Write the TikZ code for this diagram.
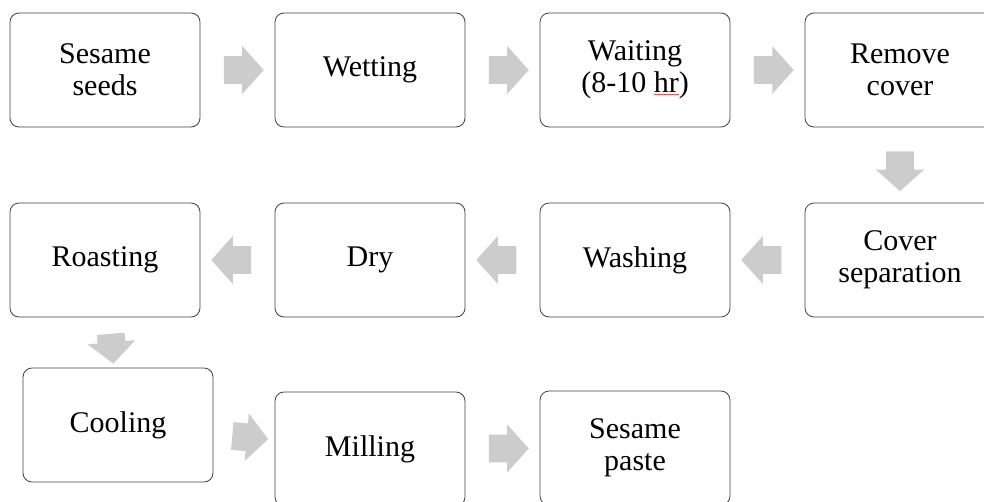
\documentclass[tikz,border=0pt]{standalone}
\usepackage{fontspec}
\setmainfont{Liberation Serif}
\usetikzlibrary{calc}
\usetikzlibrary{positioning,shapes.arrows}

\begin{document}
\begin{tikzpicture}
[x=1pt,y=-1pt,every node/.style={draw=black!75,line width=0.8pt,rounded corners=9pt,minimum width=190pt,minimum height=114pt,align=center,font=\fontsize{30}{32}\selectfont},
blockarrow/.style={single arrow,draw=none,fill=black!20,rounded corners=0pt,minimum width=0pt,minimum height=40pt,inner sep=0pt,inner ysep=13.5pt,single arrow head extend=10pt,single arrow tip angle=96}]

\useasboundingbox (0,0) rectangle (984,501);
\clip (0,0) rectangle (984,501);

\node (seeds) at (105,70) {Sesame\\seeds};
\node (wetting) at (370,70) {Wetting};
\node (waiting) at (635,70) {Waiting\\(8-10 \textcolor{red!70}{\underline{\textcolor{black}{hr}}})};
\node (remove) at (900,70) {Remove\\cover};

\node (separation) at (900,260) {Cover\\separation};
\node (washing) at (635,260) {Washing};
\node (dry) at (370,260) {Dry};
\node (roasting) at (105,260) {Roasting};

\node (cooling) at (118,425) {Cooling};
\node (milling) at (370,449) {Milling};
\node (paste) at (635,448) {Sesame\\paste};


\node[blockarrow] (a1) at ($(seeds)!0.5!(wetting)$) {};
\node[blockarrow] (a2) at ($(wetting)!0.5!(waiting)$) {};
\node[blockarrow] (a3) at ($(waiting)!0.5!(remove)$) {};
\node[blockarrow,rotate=-90] (a4) at ($(remove)!0.5!(separation)$) {};

\node[blockarrow,rotate=180] (a5) at ($(separation)!0.5!(washing)$) {};
\node[blockarrow,rotate=180] (a6) at ($(washing)!0.5!(dry)$) {};
\node[blockarrow,rotate=180] (a7) at ($(dry)!0.5!(roasting)$) {};

\node[blockarrow,rotate=-85,minimum height=30pt] (a8) at ($(roasting)!0.5!(cooling)$) {};
\node[blockarrow,rotate=-5,minimum height=36pt] (a9) at ($(cooling)!0.5!(milling)$) {};
\node[blockarrow] (a10) at ($(milling)!0.5!(paste)$) {};

\end{tikzpicture}
\end{document}
